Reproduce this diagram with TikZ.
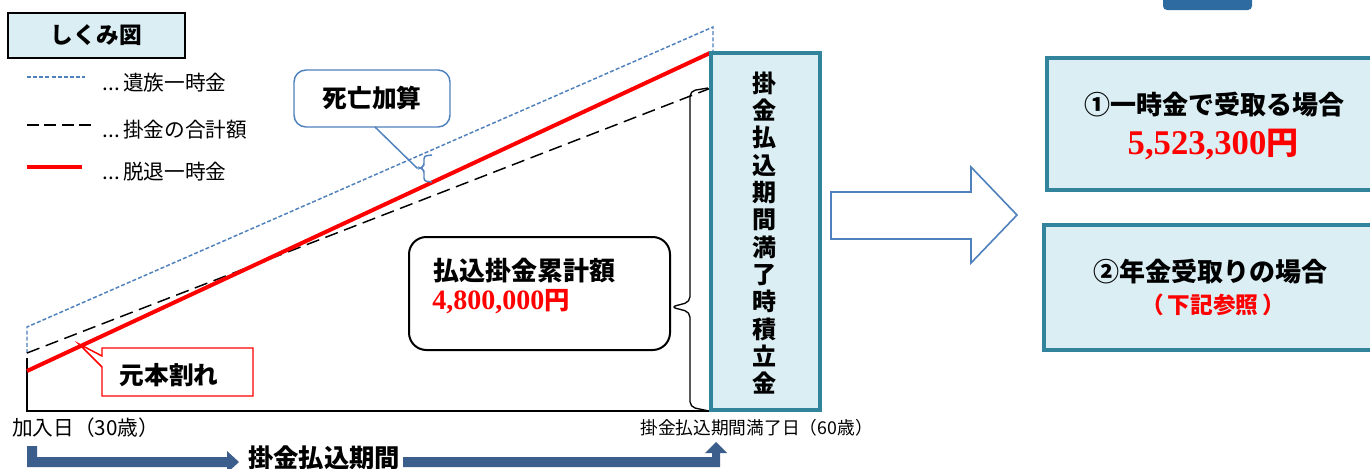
\documentclass[tikz,border=0pt]{standalone}
\usepackage{fontspec}
\newfontfamily\jp{Noto Sans CJK JP}
\newfontfamily\tnr{Liberation Serif}
\definecolor{lb}{HTML}{DAEEF3}
\definecolor{tealb}{HTML}{31849B}
\definecolor{ob}{HTML}{4F81BD}
\definecolor{db}{HTML}{3B5E8C}
\definecolor{blobc}{HTML}{2E6BA0}
\newcommand\myellip{\makebox[1.1em][s]{\hspace{0.12em}.\hfil.\hfil.\hspace{0.12em}}}
\begin{document}
\begin{tikzpicture}[x=0.75pt,y=-0.75pt,
  titlebox/.style={draw=black,line width=1.5pt,fill=lb,inner sep=0pt,font=\jp\bfseries\fontsize{17}{20}\selectfont},
  legtxt/.style={inner sep=0pt,font=\jp\fontsize{15.5}{18}\selectfont},
  bluedash/.style={ob,line width=1.1pt,dash pattern=on 3pt off 1.6pt},
  blackdash/.style={black,line width=1.1pt,dash pattern=on 10pt off 5pt},
  redline/.style={red,line width=3pt},
  tealbox/.style={draw=tealb,line width=2.4pt,fill=lb,inner sep=0pt},
  bigtxt/.style={inner sep=0pt,font=\jp\bfseries\fontsize{19.5}{23}\selectfont},
  smalltxt/.style={inner sep=0pt,font=\jp\fontsize{15.5}{18}\selectfont},
  redmoney/.style={inner sep=0pt,text=red},
  darrow/.style={fill=db,draw=none}
]
\clip (0,0) rectangle (1370,468);
\fill[white] (0,0) rectangle (1370,468);

% top-right blob
\fill[blobc,rounded corners=3pt] (1163,-8) rectangle (1252,10);

% title
\node[titlebox,minimum width=132.75pt,minimum height=33.75pt] (title) at (96.5,35.5) {しくみ図};

% legend
\coordinate (lb1) at (27,77); \coordinate (lb2) at (85,77);
\draw[bluedash] (lb1) -- (lb2);
\node[legtxt,anchor=west] (lt1) at (100,83) {\myellip 遺族一時金};
\coordinate (lk1) at (27,125); \coordinate (lk2) at (95,125);
\draw[blackdash,dash pattern=on 9pt off 4pt] (lk1) -- (lk2);
\node[legtxt,anchor=west] (lt2) at (100,130) {\myellip 掛金の合計額};
\coordinate (lr1) at (27,167); \coordinate (lr2) at (82,167);
\draw[red,line width=3.6pt] (lr1) -- (lr2);
\node[legtxt,anchor=west] (lt3) at (100,172) {\myellip 脱退一時金};

% axes
\coordinate (O) at (27,411);
\coordinate (Otop) at (27,358);
\coordinate (Xend) at (712,411);
\draw[line width=1.3pt] (Otop) -- (O) -- (Xend);

% lines
\coordinate (k0) at (27,353); \coordinate (k1) at (711,88);
\coordinate (b0) at (27,327); \coordinate (b1) at (713,27); \coordinate (b2) at (713,53);
\coordinate (r0) at (27,371); \coordinate (r1) at (710,53);
\draw[bluedash] (k0) -- (b0) -- (b1) -- (b2);
\draw[blackdash] (k0) -- (k1);
\draw[redline] (r0) -- (r1);

% right brace
\coordinate (bTip) at (671,307);
\draw[line width=1pt,rounded corners=4pt] (708,88) -- (690,91) -- (690,302) -- (bTip) -- (690,312) -- (690,407) -- (709,411);

% payment box
\node[draw=black,line width=1.5pt,fill=white,rounded corners=13pt,minimum width=195.75pt,minimum height=84.75pt,inner sep=0pt] (pay) at (539.5,293.5) {};
\node[inner sep=0pt,anchor=west,font=\jp\bfseries\fontsize{19.5}{23}\selectfont] (payt) at (433,271) {払込掛金累計額};
\node[redmoney,anchor=west] (paym) at (432,302) {{\tnr\bfseries\fontsize{21}{24}\selectfont 4,800,000}{\jp\bfseries\fontsize{19}{23}\selectfont 円}};

% death callout
\node[draw=ob,line width=1.1pt,fill=white,rounded corners=9pt,minimum width=117pt,minimum height=42.75pt,inner sep=0pt,font=\jp\bfseries\fontsize{18.5}{22}\selectfont] (dcall) at (372,98.5) {死亡加算};
\coordinate (dStart) at (375,127);
\coordinate (dTip) at (417,168);
\draw[ob,line width=1.1pt] (dStart) -- (dTip) -- (422,168);
\draw[ob,line width=1.1pt,rounded corners=2pt] (432,155) -- (424,156) -- (424,166) -- (420,168) -- (424,170) -- (424,181) -- (432,182);

% gentan callout
\coordinate (gTip) at (79,344);
\draw[red,line width=1.1pt,fill=white] (102,348) -- (253,348) -- (253,396) -- (102,396) -- (102,367) -- (gTip) -- (102,356) -- cycle;
\node[inner sep=0pt,font=\jp\bfseries\fontsize{18.5}{22}\selectfont] (gtxt) at (169,375) {元本割れ};

% maturity box
\node[tealbox,minimum width=81.75pt,minimum height=267.75pt] (mat) at (765.5,231.5) {};
\node[inner sep=0pt,align=center,font=\jp\bfseries\fontsize{18}{20.5}\selectfont] (matt) at (764,233) {掛\\金\\払\\込\\期\\間\\満\\了\\時\\積\\立\\金};

% big hollow arrow
\draw[ob,line width=1.2pt,fill=white] (831,192) -- (971,192) -- (971,167) -- (1017,215) coordinate (aTip) -- (971,263) -- (971,239) -- (831,239) -- cycle;

% box 1
\node[tealbox,minimum width=249.75pt,minimum height=99pt] (box1) at (1213.5,124) {};
\node[bigtxt] (b1t) at (1214,105) {①一時金で受取る場合};
\node[redmoney] (b1m) at (1213,144) {{\tnr\bfseries\fontsize{26}{30}\selectfont 5,523,300}{\jp\bfseries\fontsize{24}{28}\selectfont 円}};

% box 2
\node[tealbox,minimum width=252pt,minimum height=93.75pt] (box2) at (1212,287.5) {};
\node[bigtxt] (b2t) at (1210,272) {②年金受取りの場合};
\node[inner sep=0pt,text=red,font=\jp\bfseries\fontsize{17}{20}\selectfont] (b2m) at (1213,305) {（\,下記参照\,）};

% bottom labels
\node[smalltxt,anchor=west] (start) at (12,428) {加入日（30歳）};
\node[inner sep=0pt,anchor=west,font=\jp\fontsize{13.3}{16}\selectfont] (end) at (640,428) {掛金払込期間満了日（60歳）};

% bottom arrows
\fill[darrow] (27,446) -- (37,446) -- (37,457) -- (227,457) -- (227,451) -- (239,462) -- (227,473) -- (227,467) -- (27,467) -- cycle;
\node[inner sep=0pt,font=\jp\bfseries\fontsize{19}{23}\selectfont] (period) at (324,458) {掛金払込期間};
\fill[darrow] (403,457) -- (712,457) -- (712,453) -- (705,453) -- (716,442) -- (727,453) -- (720,453) -- (720,467) -- (403,467) -- cycle;
\end{tikzpicture}
\end{document}
